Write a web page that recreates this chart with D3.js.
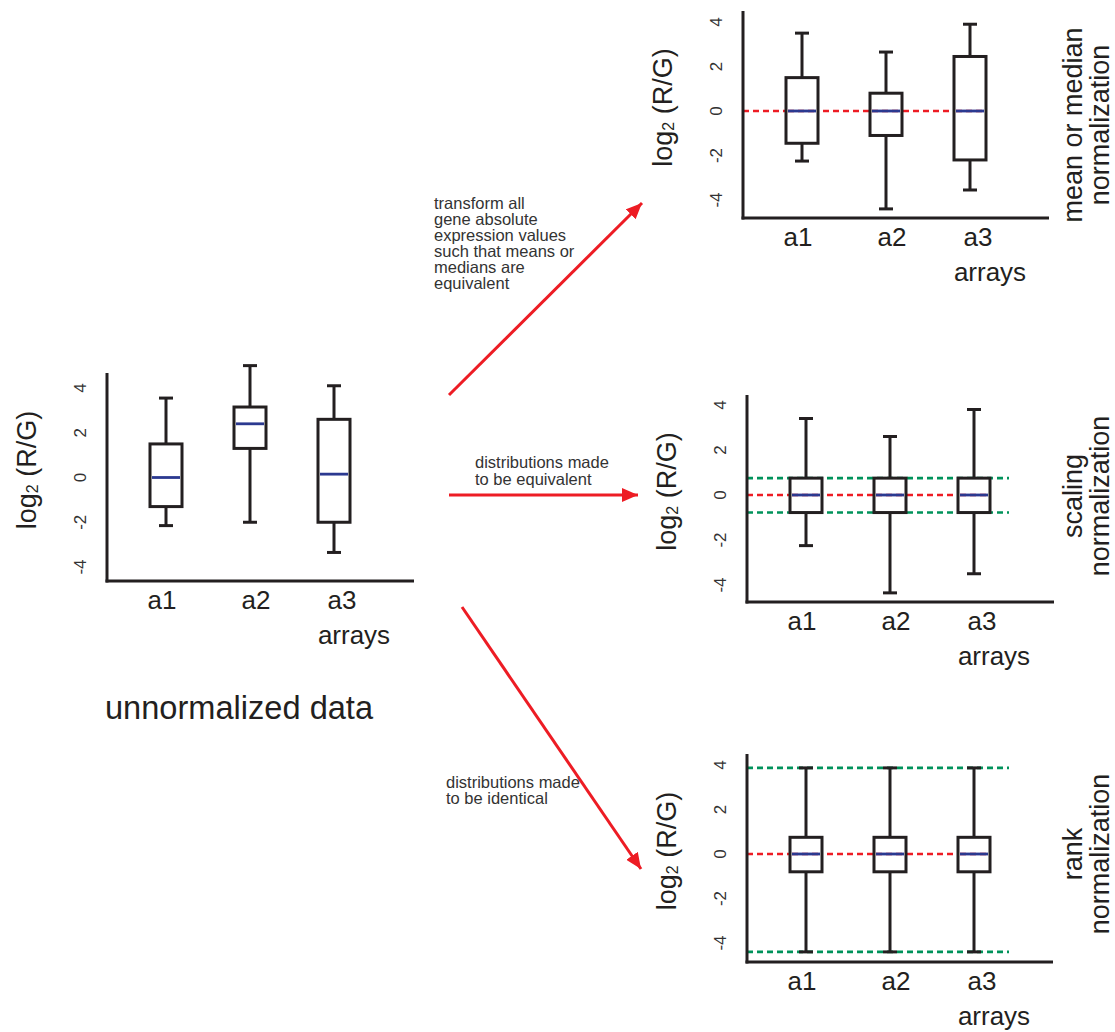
<!DOCTYPE html>
<html>
<head>
<meta charset="utf-8">
<script src="https://cdn.jsdelivr.net/npm/d3@7"></script>
<style>
  html, body { margin: 0; padding: 0; background: #fff; }
  svg { display: block; font-family: "Liberation Sans", Arial, Helvetica, sans-serif; }
</style>
</head>
<body>
<svg id="chart" width="1115" height="1032"></svg>
<script>
// ---------------- DATA ----------------
const categories = ["a1", "a2", "a3"];
const yTicks = [-4, -2, 0, 2, 4];
const xAxisTitle = "arrays";

// unnormalized data
const rawWhiskerHigh = [3.55, 5.0, 4.1];
const rawQ3          = [1.5, 3.15, 2.6];
const rawMedian      = [0.0, 2.4, 0.15];
const rawQ1          = [-1.3, 1.3, -2.0];
const rawWhiskerLow  = [-2.15, -2.0, -3.35];

// mean or median normalization
const meanWhiskerHigh = [3.5, 2.65, 3.9];
const meanQ3          = [1.5, 0.8, 2.45];
const meanMedian      = [0, 0, 0];
const meanQ1          = [-1.45, -1.1, -2.2];
const meanWhiskerLow  = [-2.25, -4.4, -3.55];

// scaling normalization
const scaleWhiskerHigh = [3.4, 2.6, 3.8];
const scaleQ3          = [0.75, 0.75, 0.75];
const scaleMedian      = [0, 0, 0];
const scaleQ1          = [-0.78, -0.78, -0.78];
const scaleWhiskerLow  = [-2.25, -4.35, -3.5];
const scaleGuides      = [0.75, -0.78];

// rank normalization
const rankWhiskerHigh = [3.87, 3.87, 3.87];
const rankQ3          = [0.75, 0.75, 0.75];
const rankMedian      = [0, 0, 0];
const rankQ1          = [-0.8, -0.8, -0.8];
const rankWhiskerLow  = [-4.4, -4.4, -4.4];
const rankGuides      = [3.87, -4.4];

const medianGuide = 0;

const sideLabelsMean  = ["mean or median", "normalization"];
const sideLabelsScale = ["scaling", "normalization"];
const sideLabelsRank  = ["rank", "normalization"];

const leftCaption = "unnormalized data";
const noteMean  = ["transform all", "gene absolute", "expression values", "such that means or", "medians are", "equivalent"];
const noteScale = ["distributions made", "to be equivalent"];
const noteRank  = ["distributions made", "to be identical"];

// ---------------- STYLE ----------------
const INK = "#231f20";
const RED = "#ed1c24";
const GREEN = "#00925a";
const BLUE = "#2b3990";
const TEXT = "#231f20";

const svg = d3.select("#chart");

function rotText(g, x, y, txt, size, color) {
  return g.append("text")
    .attr("transform", `translate(${x},${y}) rotate(-90)`)
    .attr("text-anchor", "middle")
    .attr("dominant-baseline", "central")
    .attr("font-size", size)
    .attr("fill", color)
    .text(txt);
}

function panel(cfg) {
  const g = svg.append("g");
  const y = d3.scaleLinear().domain([-4, 4]).range([cfg.yLow, cfg.yHigh]);
  const x = d3.scalePoint().domain(categories).range([cfg.x0 + 59, cfg.x0 + 227]);
  const rows = categories.map((c, i) => ({
    c, hi: cfg.hi[i], q3: cfg.q3[i], med: cfg.med[i], q1: cfg.q1[i], lo: cfg.lo[i]
  }));
  const boxW = 32, capW = 14;

  // guide lines
  if (cfg.green) {
    g.selectAll(".green").data(cfg.green).join("line")
      .attr("x1", cfg.x0).attr("x2", cfg.x0 + 262)
      .attr("y1", d => y(d)).attr("y2", d => y(d))
      .attr("stroke", GREEN).attr("stroke-width", 2.6)
      .attr("stroke-dasharray", "6,4");
  }
  if (cfg.red) {
    g.append("line")
      .attr("x1", cfg.x0).attr("x2", cfg.x0 + 242)
      .attr("y1", y(medianGuide)).attr("y2", y(medianGuide))
      .attr("stroke", RED).attr("stroke-width", 2.6)
      .attr("stroke-dasharray", "6,4");
  }

  const b = g.selectAll(".bx").data(rows).join("g");
  // whiskers
  b.append("line")
    .attr("x1", d => x(d.c)).attr("x2", d => x(d.c))
    .attr("y1", d => y(d.hi)).attr("y2", d => y(d.lo))
    .attr("stroke", INK).attr("stroke-width", 3);
  b.append("line")
    .attr("x1", d => x(d.c) - capW / 2).attr("x2", d => x(d.c) + capW / 2)
    .attr("y1", d => y(d.hi)).attr("y2", d => y(d.hi))
    .attr("stroke", INK).attr("stroke-width", 3);
  b.append("line")
    .attr("x1", d => x(d.c) - capW / 2).attr("x2", d => x(d.c) + capW / 2)
    .attr("y1", d => y(d.lo)).attr("y2", d => y(d.lo))
    .attr("stroke", INK).attr("stroke-width", 3);
  // boxes
  b.append("rect")
    .attr("x", d => x(d.c) - boxW / 2).attr("width", boxW)
    .attr("y", d => y(d.q3)).attr("height", d => y(d.q1) - y(d.q3))
    .attr("fill", "#fff").attr("stroke", INK).attr("stroke-width", 3);
  if (cfg.red) {
    b.append("line")
      .attr("x1", d => x(d.c) - boxW / 2 + 2).attr("x2", d => x(d.c) + boxW / 2 - 2)
      .attr("y1", y(medianGuide)).attr("y2", y(medianGuide))
      .attr("stroke", RED).attr("stroke-width", 2.6).attr("stroke-dasharray", "6,4");
  }
  b.append("line")
    .attr("x1", d => x(d.c) - boxW / 2 + 2).attr("x2", d => x(d.c) + boxW / 2 - 2)
    .attr("y1", d => y(d.med)).attr("y2", d => y(d.med))
    .attr("stroke", BLUE).attr("stroke-width", 2.8);

  // axes
  g.append("line").attr("x1", cfg.x0).attr("x2", cfg.x0)
    .attr("y1", cfg.top).attr("y2", cfg.base + 1.5)
    .attr("stroke", INK).attr("stroke-width", 3);
  g.append("line").attr("x1", cfg.x0 - 1.5).attr("x2", cfg.right)
    .attr("y1", cfg.base).attr("y2", cfg.base)
    .attr("stroke", INK).attr("stroke-width", 3);

  // tick labels (rotated)
  yTicks.forEach(t => rotText(g, cfg.x0 - 27, y(t), t, 17, "#333"));

  // y title
  const yt = g.append("text")
    .attr("transform", `translate(${cfg.x0 - 80},${(cfg.top + cfg.base) / 2 - 7}) rotate(-90)`)
    .attr("text-anchor", "middle")
    .attr("dominant-baseline", "central")
    .attr("font-size", 27).attr("fill", TEXT);
  yt.append("tspan").text("log");
  yt.append("tspan").attr("font-size", 16).attr("dy", 5).text("2");
  yt.append("tspan").attr("dy", -5).text(" (R/G)");

  // category labels
  const labOff = [-4, 6, 8];
  categories.forEach((c, i) => {
    g.append("text").attr("x", x(c) + labOff[i]).attr("y", cfg.base + 19)
      .attr("text-anchor", "middle").attr("dominant-baseline", "central")
      .attr("font-size", 26).attr("fill", TEXT).text(c);
  });
  g.append("text").attr("x", cfg.x0 + 247).attr("y", cfg.base + 63)
    .attr("text-anchor", "middle")
    .attr("font-size", 26).attr("fill", TEXT).text(xAxisTitle);

  // side labels
  if (cfg.side) {
    rotText(g, 1073, cfg.sideY, cfg.side[0], 27, TEXT);
    rotText(g, 1100, cfg.sideY, cfg.side[1], 27, TEXT);
  }
}

panel({ x0: 107, top: 373, base: 581, right: 414, yHigh: 388, yLow: 567,
  hi: rawWhiskerHigh, q3: rawQ3, med: rawMedian, q1: rawQ1, lo: rawWhiskerLow });
panel({ x0: 743, top: 11, base: 218, right: 1049, yHigh: 22, yLow: 200,
  hi: meanWhiskerHigh, q3: meanQ3, med: meanMedian, q1: meanQ1, lo: meanWhiskerLow,
  red: true, side: sideLabelsMean, sideY: 125 });
panel({ x0: 747, top: 395, base: 602, right: 1054, yHigh: 405, yLow: 585,
  hi: scaleWhiskerHigh, q3: scaleQ3, med: scaleMedian, q1: scaleQ1, lo: scaleWhiskerLow,
  red: true, green: scaleGuides, side: sideLabelsScale, sideY: 496 });
panel({ x0: 747, top: 754, base: 962, right: 1053, yHigh: 765, yLow: 943,
  hi: rankWhiskerHigh, q3: rankQ3, med: rankMedian, q1: rankQ1, lo: rankWhiskerLow,
  red: true, green: rankGuides, side: sideLabelsRank, sideY: 854 });

// caption
svg.append("text").attr("x", 105).attr("y", 707)
  .attr("dominant-baseline", "central")
  .attr("font-size", 32.6).attr("fill", TEXT).text(leftCaption);

// arrows
const defs = svg.append("defs");
defs.append("marker").attr("id", "ah")
  .attr("markerUnits", "userSpaceOnUse")
  .attr("markerWidth", 18).attr("markerHeight", 14)
  .attr("refX", 16).attr("refY", 7).attr("orient", "auto")
  .append("path").attr("d", "M0,0 L16,7 L0,14 Z").attr("fill", RED);

const arrows = [
  [[449, 395], [642, 203]],
  [[449, 495], [638, 495]],
  [[462, 607], [641, 869]]
];
arrows.forEach(a => {
  svg.append("line")
    .attr("x1", a[0][0]).attr("y1", a[0][1])
    .attr("x2", a[1][0]).attr("y2", a[1][1])
    .attr("stroke", RED).attr("stroke-width", 3)
    .attr("marker-end", "url(#ah)");
});

function note(lines, x, y0, lh) {
  const t = svg.append("text").attr("font-size", 16.5).attr("fill", "#333");
  lines.forEach((l, i) => t.append("tspan").attr("x", x).attr("y", y0 + i * lh)
    .attr("dominant-baseline", "central").text(l));
}
note(noteMean, 434, 203, 16);
note(noteScale, 475, 462, 16.5);
note(noteRank, 446, 782, 16);
</script>
</body>
</html>
